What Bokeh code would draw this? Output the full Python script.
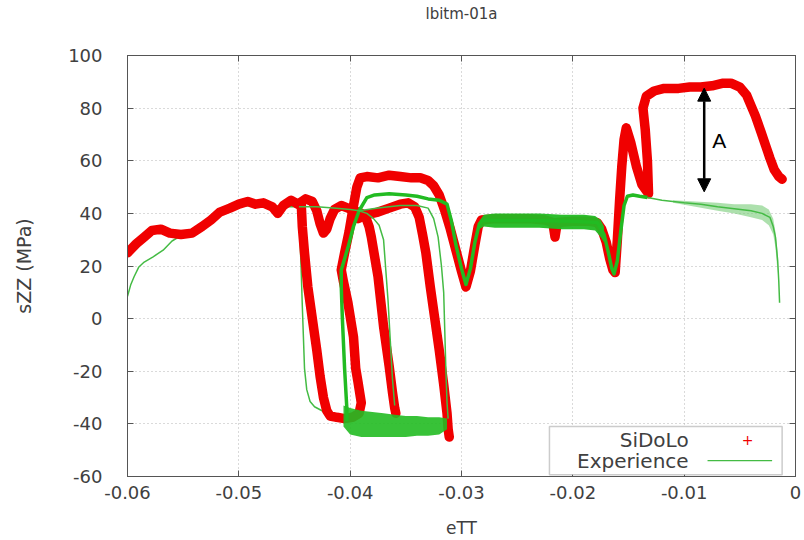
from bokeh.plotting import figure
from bokeh.models import (Range1d, FixedTicker, LinearAxis, CustomJSTickFormatter,
                          BoxAnnotation, Label, Arrow, NormalHead)
from bokeh.embed import file_html
from bokeh.resources import INLINE

# ---------------- data ----------------
title_text = "lbitm-01a"
x_ticks = [-0.06, -0.05, -0.04, -0.03, -0.02, -0.01, 0.0]
x_tick_labels = ["-0.06", "-0.05", "-0.04", "-0.03", "-0.02", "-0.01", "0"]
y_ticks = [-60, -40, -20, 0, 20, 40, 60, 80, 100]
y_tick_labels = ["-60", "-40", "-20", "0", "20", "40", "60", "80", "100"]

# SiDoLo (simulation) - main path
sidolo_x1 = [-0.0600, -0.0592, -0.0585, -0.0578, -0.0570, -0.0562, -0.0552, -0.0542, -0.0533, -0.0525,
             -0.0517, -0.0508, -0.0500, -0.0492, -0.0485, -0.0478, -0.0470, -0.0465, -0.0460, -0.0453,
             -0.0447, -0.0444,
             -0.0443, -0.0441, -0.0438, -0.0434, -0.0430, -0.0427, -0.0424, -0.0421, -0.0418,
             -0.0412, -0.0405, -0.0398, -0.0392, -0.0390,
             -0.0393, -0.0395, -0.0397, -0.0402, -0.0406, -0.0408,
             -0.0405, -0.0401, -0.0397, -0.0394, -0.0391,
             -0.0385, -0.0375, -0.0365, -0.0355, -0.0345, -0.0337, -0.0330, -0.0325,
             -0.0320, -0.0315, -0.0310, -0.0305, -0.0300, -0.0296,
             -0.0292, -0.0288, -0.0285, -0.0282,
             -0.0270, -0.0255, -0.0240, -0.0225, -0.0218, -0.0216, -0.0214, -0.0200, -0.0185, -0.0178, -0.0174,
             -0.0170, -0.0167, -0.0164, -0.0162,
             -0.0160, -0.0158, -0.0156, -0.0154, -0.0152,
             -0.0148, -0.0143, -0.0138, -0.0132,
             -0.0133, -0.0135, -0.0137, -0.0134, -0.0127, -0.0118,
             -0.0105, -0.0095, -0.0085, -0.0075, -0.0065, -0.0058, -0.0050, -0.0044, -0.0040, -0.0036,
             -0.0031, -0.0027, -0.0023, -0.0019, -0.0015, -0.0012]
sidolo_y1 = [25, 28.5, 31, 33.5, 34, 32.5, 32, 32.5, 35, 37.5,
             40.5, 42, 43.5, 44.5, 43.5, 44, 42.5, 40, 43, 45,
             43.5, 44,
             35, 25, 12, 0, -12, -22, -30, -35, -37,
             -37.5, -38, -37.5, -36, -32,
             -24, -19, -7, 6, 14, 18.5,
             25, 33, 43, 50, 53.5,
             54, 53.5, 54.5, 54, 53.5, 53.5, 52.5, 50.5,
             47, 41, 34, 26, 18, 12,
             18, 28, 35, 37.5,
             38, 38, 38, 37.5, 36.5, 31, 36.5, 37, 37, 36.5, 34,
             29, 23, 18.5, 17.5,
             30, 45, 58, 68, 72.5,
             67, 58, 51, 47.5,
             60, 72, 80, 84.5, 86.5, 87.5,
             87.5, 88, 88, 88.5, 89.5, 89.5, 88, 85, 81, 77,
             71, 66, 61, 56.5, 54, 53]

# SiDoLo - plateau with dip, then second descent
sidolo_x2 = [-0.0447, -0.0440, -0.0434, -0.0430, -0.0427, -0.0424, -0.0421, -0.0418, -0.0414, -0.0408,
             -0.0402, -0.0396, -0.0390, -0.0386, -0.0383, -0.0381, -0.0375, -0.0370, -0.0365, -0.0362,
             -0.0360, -0.0359]
sidolo_y2 = [43.5, 45.5, 44.5, 41, 36, 32.5, 34, 38, 41.5, 43,
             42, 41, 40, 38.5, 35, 31, 16, -3, -18, -28,
             -34, -36]

# SiDoLo - arch and third descent
sidolo_x3 = [-0.0393, -0.0385, -0.0375, -0.0365, -0.0355, -0.0348, -0.0342, -0.0338, -0.0335, -0.0332,
             -0.0328, -0.0324, -0.0320, -0.0316, -0.0313, -0.0312, -0.0311]
sidolo_y3 = [38, 39.5, 40.5, 42, 43.5, 44, 42.5, 38.5, 32, 25,
             12, 0, -12, -25, -36, -42, -45]

# Experience - start, plateau, first descent
exp_x1 = [-0.0600, -0.0597, -0.0594, -0.0590, -0.0585, -0.0577, -0.0568, -0.0560, -0.0550, -0.0540,
          -0.0530, -0.0520, -0.0510, -0.0500, -0.0490, -0.0475, -0.0460, -0.0450, -0.0446, -0.0445,
          -0.0444, -0.0443, -0.0442, -0.0441, -0.0439, -0.0436, -0.0432, -0.0424, -0.0413, -0.0405]
exp_y1 = [8.5, 13, 16, 19.5, 21.5, 23.5, 26, 29.5, 32, 33,
          35.5, 38.5, 41, 42.5, 43, 43, 42.5, 42.5, 42, 30,
          18.5, 5, -7, -19, -27, -31.5, -33.5, -35.3, -37.3, -38.5]

# Experience - oscillating band at the bottom
band1_x = [-0.0406, -0.0400, -0.0390, -0.0380, -0.0370, -0.0360, -0.0350, -0.0340, -0.0330, -0.0320, -0.0313]
band1_hi = [-33, -34, -35, -35.5, -36, -36.5, -37, -37, -37.5, -37.5, -38]
band1_lo = [-41, -44, -45, -45, -45, -45, -45, -44.5, -44.5, -44, -42]

# Experience - rise, top, V, plateau, second V
exp_x2 = [-0.0403, -0.0403, -0.0405, -0.0407, -0.0408, -0.0408, -0.0402, -0.0397, -0.0392, -0.0385,
          -0.0378, -0.0365, -0.0350, -0.0340, -0.0330, -0.0320, -0.0313, -0.0309, -0.0305, -0.0300,
          -0.0296, -0.0292, -0.0288, -0.0284, -0.0281, -0.0270, -0.0240, -0.0200, -0.0178, -0.0172,
          -0.0168, -0.0165, -0.0163, -0.0160, -0.0157, -0.0154, -0.0151, -0.0146, -0.0140, -0.0133]
exp_y2 = [-39, -34, -19, 0, 12, 18.5, 27, 35, 41, 46,
          47, 47.5, 47, 46.5, 45.5, 45, 43.5, 37, 28, 19,
          13, 19, 29, 36, 37.5, 37.3, 37.3, 37, 36.5, 32,
          25, 19, 17, 22, 33, 43, 46.5, 47, 46.5, 46]

# Experience - oscillating plateau band
band2_x = [-0.0284, -0.0280, -0.0270, -0.0250, -0.0230, -0.0210, -0.0190, -0.0180, -0.0175, -0.0172]
band2_hi = [37, 39.5, 40, 40, 40, 39.5, 39.5, 39, 37.5, 35]
band2_lo = [34, 35, 34.5, 34.5, 34.5, 34, 34, 33.5, 31, 29]

# Experience - arch and descent near -0.037
exp_x3 = [-0.0446, -0.0430, -0.0415, -0.0400, -0.0392, -0.0385, -0.0379, -0.0374, -0.0370, -0.0368,
          -0.0366, -0.0364, -0.0362, -0.0360]
exp_y3 = [42.5, 42.5, 42, 41.5, 41, 40, 38, 35.5, 30, 18.5,
          7, -8, -23, -33]

# Experience - arch and descent near -0.032
exp_x4 = [-0.0392, -0.0375, -0.0355, -0.0340, -0.0330, -0.0325, -0.0321, -0.0318, -0.0316, -0.0315,
          -0.0314, -0.0313, -0.0312]
exp_y4 = [41, 42, 43, 43, 42, 38, 31, 20, 10, -5,
          -20, -32, -38]

# Experience - tail
exp_x5 = [-0.0133, -0.0120, -0.0100, -0.0085, -0.0070, -0.0055, -0.0040, -0.0030, -0.0023, -0.0020,
          -0.0018, -0.0016, -0.0015, -0.00143]
exp_y5 = [46, 45, 44, 43.5, 42.5, 41.8, 41, 40, 38.5, 35,
          31, 22, 14, 6]
band3_x = [-0.0110, -0.0090, -0.0070, -0.0055, -0.0040, -0.0030, -0.0024, -0.0020, -0.0018, -0.0016]
band3_hi = [45, 44.5, 44, 43.5, 43.5, 43, 41.5, 38, 33, 25]
band3_lo = [44, 42.5, 41, 40, 38.5, 37.5, 35.5, 32, 27, 17]

# ---------------- styling ----------------
FONT = "DejaVu Sans"
TXT = "#404040"
RED = "#f00000"
GREEN_THIN = "#44bb44"
GREEN_BAND = "#22bb22"

p = figure(width=804, height=540, x_range=Range1d(-0.06, 0), y_range=Range1d(-60, 100),
           output_backend="svg", toolbar_location=None, title=title_text,
           min_border_left=127, min_border_right=9, min_border_top=55, min_border_bottom=63)
p.background_fill_color = "white"
p.border_fill_color = "white"
p.outline_line_color = "#555555"
p.outline_line_width = 1

p.title.align = "center"
p.title.text_font = FONT
p.title.text_font_size = "15px"
p.title.text_font_style = "normal"
p.title.text_color = TXT
p.title.standoff = 4

for ax, ticks, labels in ((p.xaxis[0], x_ticks, x_tick_labels), (p.yaxis[0], y_ticks, y_tick_labels)):
    ax.ticker = FixedTicker(ticks=ticks)
    ax.major_label_overrides = dict(zip(ticks, labels))
    ax.major_tick_in = 6
    ax.major_tick_out = 0
    ax.minor_tick_line_color = None
    ax.axis_line_color = "#555555"
    ax.major_tick_line_color = "#555555"
    ax.major_label_text_font = FONT
    ax.major_label_text_font_size = "18px"
    ax.major_label_text_color = TXT
    ax.axis_label_text_font = FONT
    ax.axis_label_text_font_style = "normal"
    ax.axis_label_text_color = TXT

p.xaxis.axis_label = "eTT"
p.yaxis.axis_label = "sZZ (MPa)"
p.xaxis.axis_label_text_font_size = "17px"
p.yaxis.axis_label_text_font_size = "19px"
p.xaxis.major_label_standoff = 9
p.xaxis.axis_label_standoff = 16
p.yaxis.major_label_standoff = 25
p.yaxis.axis_label_standoff = 30

# mirrored inner ticks on top and right (no labels)
top_axis = LinearAxis(ticker=FixedTicker(ticks=x_ticks),
                      formatter=CustomJSTickFormatter(code="return ''"),
                      major_tick_in=6, major_tick_out=0, minor_tick_line_color=None,
                      axis_line_color="#555555", major_tick_line_color="#555555",
                      major_label_standoff=0, major_label_text_font_size="0px",
                      # invisible spacer so that the title sits near the top edge
                      axis_label=" ", axis_label_standoff=27, axis_label_text_font_size="1px",
                      axis_label_text_alpha=0)
p.add_layout(top_axis, "above")
right_axis = LinearAxis(ticker=FixedTicker(ticks=y_ticks),
                        formatter=CustomJSTickFormatter(code="return ''"),
                        major_tick_in=6, major_tick_out=0, minor_tick_line_color=None,
                        axis_line_color="#555555", major_tick_line_color="#555555",
                        major_label_standoff=0, major_label_text_font_size="0px")
p.add_layout(right_axis, "right")

for g in (p.xgrid[0], p.ygrid[0]):
    g.grid_line_color = "#b4b4b4"
    g.grid_line_dash = "1 3"
    g.grid_line_width = 1
p.xgrid.ticker = FixedTicker(ticks=x_ticks)
p.ygrid.ticker = FixedTicker(ticks=y_ticks)

# ---------------- curves ----------------
p.line(exp_x1, exp_y1, line_color=GREEN_THIN, line_width=1.5)

for xs, ys in ((sidolo_x2, sidolo_y2), (sidolo_x3, sidolo_y3), (sidolo_x1, sidolo_y1)):
    p.line(xs, ys, line_color=RED, line_width=9.5, line_join="round", line_cap="round")

p.varea(x=band1_x, y1=band1_lo, y2=band1_hi, fill_color=GREEN_BAND, fill_alpha=0.9)
p.varea(x=band2_x, y1=band2_lo, y2=band2_hi, fill_color=GREEN_BAND, fill_alpha=0.95)
p.varea(x=band3_x, y1=band3_lo, y2=band3_hi, fill_color="#77cc77", fill_alpha=0.6)

p.line(exp_x2, exp_y2, line_color=GREEN_BAND, line_width=3.5, line_join="round")
p.line(exp_x3, exp_y3, line_color=GREEN_THIN, line_width=1.5)
p.line(exp_x4, exp_y4, line_color=GREEN_THIN, line_width=1.5)
p.line(exp_x5, exp_y5, line_color=GREEN_THIN, line_width=1.5)

# ---------------- annotation "A" ----------------
p.add_layout(Arrow(start=NormalHead(size=13, fill_color="black", line_color="black"),
                   end=NormalHead(size=13, fill_color="black", line_color="black"),
                   x_start=-0.0082, y_start=48.2, x_end=-0.0082, y_end=87.6,
                   line_color="black", line_width=2.5))
p.add_layout(Label(x=-0.00685, y=67.8, text="A", text_align="center", text_baseline="middle",
                   text_font="Liberation Sans", text_font_size="21px", text_color="black"))

# ---------------- legend (gnuplot style: text, then sample) ----------------
p.add_layout(BoxAnnotation(left=-0.0221, right=-0.0012, bottom=-59.3, top=-41.0,
                           fill_color="white", fill_alpha=1.0,
                           line_color="#555555", line_width=1.5, level="overlay"))
p.add_layout(Label(x=-0.0096, y=-46.3, text="SiDoLo", text_align="right", text_baseline="middle",
                   text_font=FONT, text_font_size="20px", text_color=TXT, level="overlay"))
p.add_layout(Label(x=-0.0096, y=-54.0, text="Experience", text_align="right", text_baseline="middle",
                   text_font=FONT, text_font_size="20px", text_color=TXT, level="overlay"))
p.add_layout(Label(x=-0.0043, y=-46.3, text="+", text_align="center", text_baseline="middle",
                   text_font=FONT, text_font_size="14px", text_color=RED, level="overlay"))
p.add_layout(Arrow(end=None, start=None, x_start=-0.0079, y_start=-54.0, x_end=-0.0021, y_end=-54.0,
                   line_color=GREEN_THIN, line_width=1.2, level="overlay"))

open("out.html", "w").write(file_html(p, INLINE))
